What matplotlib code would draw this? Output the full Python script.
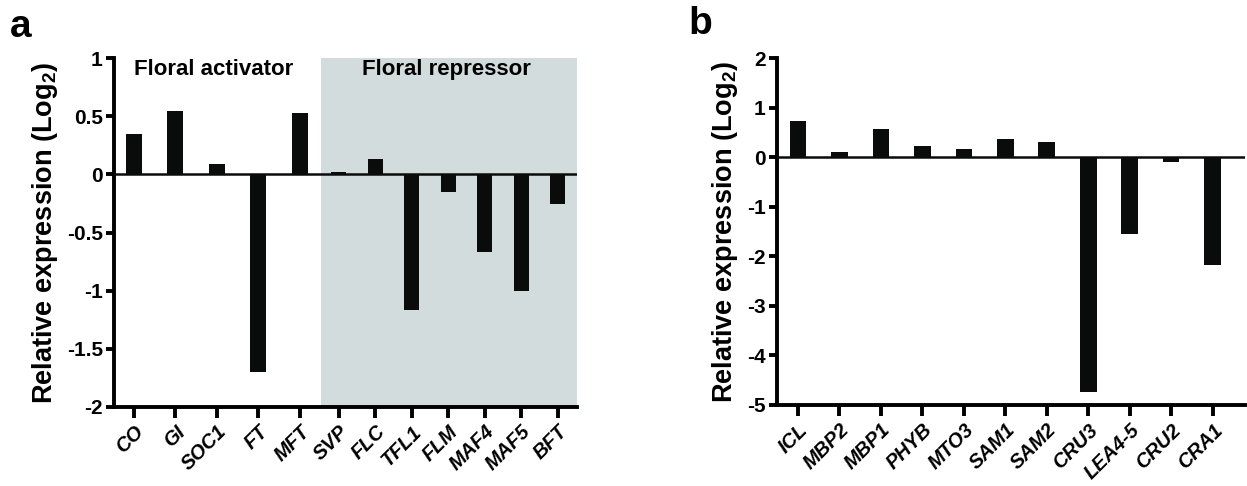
import numpy as np
import matplotlib
matplotlib.use('Agg')
import matplotlib.pyplot as plt

plt.rcParams['font.family'] = ['Liberation Sans', 'DejaVu Sans']
plt.rcParams['mathtext.fontset'] = 'custom'
plt.rcParams['mathtext.rm'] = 'Liberation Sans:bold'
plt.rcParams['axes.unicode_minus'] = False

# panel a: flowering genes
activator_genes = ['CO', 'GI', 'SOC1', 'FT', 'MFT']
activator_expr = [0.35, 0.545, 0.086, -1.70, 0.53]
repressor_genes = ['SVP', 'FLC', 'TFL1', 'FLM', 'MAF4', 'MAF5', 'BFT']
repressor_expr = [0.017, 0.13, -1.17, -0.15, -0.67, -1.0, -0.255]
a_yticks = [1, 0.5, 0, -0.5, -1, -1.5, -2]
a_yticklabels = ['1', '0.5', '0', '-0.5', '-1', '-1.5', '-2']

# panel b: other genes
genes_b = ['ICL', 'MBP2', 'MBP1', 'PHYB', 'MTO3', 'SAM1', 'SAM2',
           'CRU3', 'LEA4-5', 'CRU2', 'CRA1']
expr_b = [0.74, 0.1, 0.57, 0.22, 0.16, 0.37, 0.31, -4.73, -1.55, -0.1, -2.17]
b_yticks = [2, 1, 0, -1, -2, -3, -4, -5]

BAR_COLOR = '#0a0c0b'
SHADE_COLOR = '#d3dcdc'
LW = 2.8

XTICK_FONT = dict(fontsize=14.5, fontweight='bold', fontstyle='italic',
                  rotation=45, ha='right', rotation_mode='anchor')
YTICK_FONT = dict(fontsize=15, fontweight='bold')


def style_axis(ax):
    for side in ['top', 'right']:
        ax.spines[side].set_visible(False)
    for side in ['left', 'bottom']:
        ax.spines[side].set_linewidth(LW)
    ax.tick_params(axis='y', width=LW, length=6, direction='out', pad=2)
    ax.tick_params(axis='x', width=LW, length=8, direction='out', pad=3)


fig = plt.figure(figsize=(12.47, 4.86), dpi=100)

# ---------------- panel a ----------------
ax1 = fig.add_axes([0.0914, 0.1632, 0.371, 0.7168])
act_x = np.arange(len(activator_genes), dtype=float)
rep_x = 4.93 + 0.877 * np.arange(len(repressor_genes))
ax1.axvspan(4.5, 10.7, color=SHADE_COLOR, lw=0, zorder=0)
ax1.bar(act_x, activator_expr, width=0.385, color=BAR_COLOR, zorder=2)
ax1.bar(rep_x, repressor_expr, width=0.36, color=BAR_COLOR, zorder=2)
ax1.axhline(0, color=BAR_COLOR, lw=1.8, zorder=3)
ax1.set_xlim(-0.474, 10.65)
ax1.set_ylim(-2, 1)
ax1.set_yticks(a_yticks)
ax1.set_yticklabels(a_yticklabels, **YTICK_FONT)
ax1.set_xticks(np.concatenate([act_x, rep_x]))
ax1.set_xticklabels(activator_genes + repressor_genes, **XTICK_FONT)
style_axis(ax1)
ax1.set_ylabel('Relative expression (Log$_2$)', fontsize=19.5,
               fontweight='bold', labelpad=5)
ax1.text(1.93, 0.9, 'Floral activator', ha='center', va='center',
         fontsize=16, fontweight='bold')
ax1.text(7.52, 0.9, 'Floral repressor', ha='center', va='center',
         fontsize=16, fontweight='bold')

# ---------------- panel b ----------------
ax2 = fig.add_axes([0.6229, 0.1667, 0.3755, 0.7134])
xb = np.arange(len(genes_b))
ax2.bar(xb, expr_b, width=0.4, color=BAR_COLOR, zorder=2)
ax2.axhline(0, color=BAR_COLOR, lw=1.8, zorder=3)
ax2.set_xlim(-0.51, 10.78)
ax2.set_ylim(-5, 2)
ax2.set_yticks(b_yticks)
ax2.set_yticklabels([str(v) for v in b_yticks], **YTICK_FONT)
ax2.set_xticks(xb)
ax2.set_xticklabels(genes_b, **XTICK_FONT)
style_axis(ax2)
ax2.set_ylabel('Relative expression (Log$_2$)', fontsize=19.5,
               fontweight='bold', labelpad=5)

fig.text(21 / 1247, 1 - 27 / 486, 'a', fontsize=28, fontweight='bold',
         ha='center', va='center')
fig.text(700 / 1247, 1 - 24 / 486, 'b', fontsize=28, fontweight='bold',
         ha='center', va='center')

fig.savefig('out.png', dpi=100)
